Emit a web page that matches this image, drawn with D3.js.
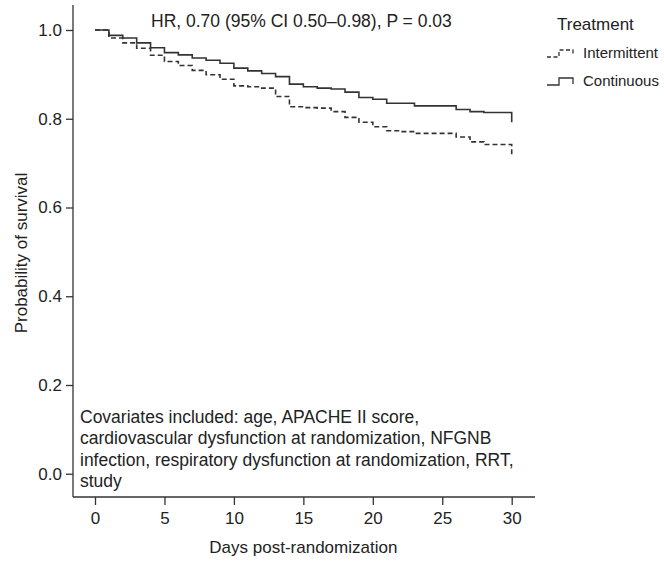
<!DOCTYPE html>
<html>
<head>
<meta charset="utf-8">
<script src="https://cdn.jsdelivr.net/npm/d3@7"></script>
<style>
  html, body { margin: 0; padding: 0; background: #fff; }
  svg text { font-family: "Liberation Sans", Arial, Helvetica, sans-serif; fill: #222; }
</style>
</head>
<body>
<svg id="chart" width="664" height="562"></svg>
<script>
// Follow-up day at which each survival estimate starts
const days = [0, 1, 2, 3, 4, 5, 6, 7, 8, 9, 10, 11, 12, 13, 14, 15,
              16, 17, 18, 19, 20, 21, 22, 23, 24, 25, 26, 27, 28, 29, 30];

// Adjusted survival probability, continuous infusion
const continuous = [1.000, 0.988, 0.982, 0.971, 0.960, 0.949, 0.944, 0.937, 0.932, 0.925,
                    0.914, 0.908, 0.902, 0.895, 0.878, 0.872, 0.869, 0.867, 0.860, 0.848,
                    0.844, 0.835, 0.835, 0.829, 0.829, 0.829, 0.821, 0.816, 0.814, 0.814,
                    0.792];

// Adjusted survival probability, intermittent infusion
const intermittent = [1.000, 0.982, 0.971, 0.959, 0.943, 0.929, 0.920, 0.909, 0.899, 0.889,
                      0.874, 0.872, 0.869, 0.850, 0.827, 0.825, 0.824, 0.816, 0.803, 0.792,
                      0.782, 0.773, 0.771, 0.767, 0.767, 0.767, 0.759, 0.748, 0.742, 0.742,
                      0.716];

const xTicks = [0, 5, 10, 15, 20, 25, 30];
const yTicks = [0.0, 0.2, 0.4, 0.6, 0.8, 1.0];

const groups = ["Intermittent", "Continuous"];
const hrLabel = "HR, 0.70 (95% CI 0.50\u20130.98), P = 0.03";
const covariateLines = [
  "Covariates included: age, APACHE II score,",
  "cardiovascular dysfunction at randomization, NFGNB",
  "infection, respiratory dysfunction at randomization, RRT,",
  "study"
];

const svg = d3.select("#chart");
const ink = "#333";

const x = d3.scaleLinear().domain([0, 30]).range([95, 511.7]);
const y = d3.scaleLinear().domain([0, 1]).range([473.75, 30]);

// Open L-shaped frame
svg.append("line").attr("x1", 73).attr("x2", 73).attr("y1", 5).attr("y2", 497)
  .attr("stroke", ink).attr("stroke-width", 1.3);
svg.append("line").attr("x1", 73).attr("x2", 535).attr("y1", 497).attr("y2", 497)
  .attr("stroke", ink).attr("stroke-width", 1.3);

// Axes
const yAxis = svg.append("g").attr("transform", "translate(73,0)")
  .call(d3.axisLeft(y).tickValues(yTicks).tickFormat(d3.format(".1f")).tickSize(7).tickPadding(4));
const xAxis = svg.append("g").attr("transform", "translate(0,497)")
  .call(d3.axisBottom(x).tickValues(xTicks).tickFormat(d3.format("d")).tickSize(8).tickPadding(7));

[xAxis, yAxis].forEach(g => {
  g.select(".domain").remove();
  g.selectAll(".tick line").attr("stroke", ink).attr("stroke-width", 1.3);
  g.selectAll(".tick text").style("font-size", "17px").attr("fill", "#222");
});

// Axis titles
svg.append("text").attr("x", x(15)).attr("y", 553).attr("text-anchor", "middle")
  .style("font-size", "17px").text("Days post-randomization");
svg.append("text").attr("transform", "translate(27,253) rotate(-90)").attr("text-anchor", "middle")
  .style("font-size", "17px").text("Probability of survival");

// Survival step curves
const step = d3.line()
  .x(d => x(d[0]))
  .y(d => y(d[1]))
  .curve(d3.curveStepAfter);

svg.append("path")
  .datum(days.map((d, i) => [d, continuous[i]]))
  .attr("d", step).attr("fill", "none")
  .attr("stroke", ink).attr("stroke-width", 1.6);

svg.append("path")
  .datum(days.map((d, i) => [d, intermittent[i]]))
  .attr("d", step).attr("fill", "none")
  .attr("stroke", ink).attr("stroke-width", 1.6)
  .attr("stroke-dasharray", "5,3");

// Hazard ratio annotation
svg.append("text").attr("x", 151).attr("y", 27).style("font-size", "17.5px").text(hrLabel);

// Covariate note
const note = svg.append("text").attr("x", 80).attr("y", 423).style("font-size", "17.5px");
note.selectAll("tspan").data(covariateLines).join("tspan")
  .attr("x", 80).attr("dy", (d, i) => i === 0 ? 0 : 21.3).text(d => d);

// Legend
const legend = svg.append("g");
legend.append("text").attr("x", 557).attr("y", 30).style("font-size", "17px").text("Treatment");
const legendRows = legend.selectAll("g.row").data(groups).join("g")
  .attr("class", "row")
  .attr("transform", (d, i) => `translate(547,${58 + i * 28})`);
legendRows.append("path")
  .attr("d", "M0,-1 H12 V-8 H26 V-2")
  .attr("fill", "none").attr("stroke", ink).attr("stroke-width", 1.3)
  .attr("stroke-dasharray", d => d === "Intermittent" ? "4,2.5" : null);
legendRows.append("text").attr("x", 36).attr("y", 0).style("font-size", "15px").text(d => d);
</script>
</body>
</html>
